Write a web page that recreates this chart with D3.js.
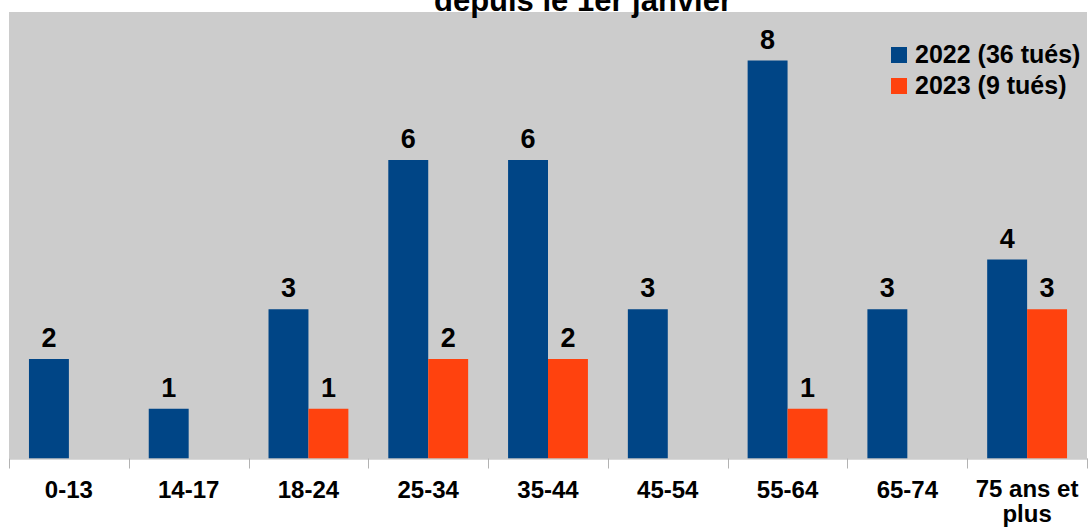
<!DOCTYPE html>
<html><head><meta charset="utf-8">
<script src="https://cdn.jsdelivr.net/npm/d3@7"></script>
<style>
html,body{margin:0;padding:0;background:#fff;}
svg{display:block;font-family:"Liberation Sans",Arial,sans-serif;font-weight:bold;}
</style></head>
<body>
<svg id="c" width="1088" height="529"></svg>
<script>
const categories = ["0-13","14-17","18-24","25-34","35-44","45-54","55-64","65-74","75 ans et plus"];
const seriesNames = ["2022 (36 tués)","2023 (9 tués)"];
const values2022 = [2,1,3,6,6,3,8,3,4];
const values2023 = [null,null,1,2,2,null,1,null,3];
const colors = ["#004586","#ff420e"];
const title = "depuis le 1er janvier";

(function(){
const svg = d3.select("#c");
const pLeft = 9, pRight = 1087, pTop = 12, pBase = 458.5;

const x = d3.scaleBand().domain(categories).range([pLeft, pRight]).paddingInner(0).paddingOuter(0);
const sub = d3.scaleBand().domain([0,1]).range([0, x.bandwidth()]).paddingInner(0).paddingOuter(0.5);
const y = d3.scaleLinear().domain([0, 8.975]).range([pBase, pTop]);

svg.append("rect").attr("x", pLeft).attr("y", pTop).attr("width", pRight - pLeft).attr("height", pBase - pTop).attr("fill", "#cccccc");

svg.append("text").attr("x", 583).attr("y", 11).attr("text-anchor", "middle")
  .attr("font-size", 31).attr("fill", "#000").text(title);

const series = [values2022, values2023];
series.forEach((vals, si) => {
  const g = svg.append("g");
  categories.forEach((c, i) => {
    const v = vals[i];
    if (v == null) return;
    const bx = x(c) + sub(si);
    g.append("rect").attr("x", bx).attr("y", y(v)).attr("width", sub.bandwidth())
      .attr("height", y(0) - y(v)).attr("fill", colors[si]);
    g.append("text").attr("x", bx + sub.bandwidth() / 2).attr("y", y(v) - 12)
      .attr("text-anchor", "middle").attr("font-size", 27).attr("fill", "#000").text(v);
  });
});

const axis = d3.axisBottom(x).tickSize(0).tickFormat("");
const ag = svg.append("g").attr("transform", `translate(0,${pBase})`).call(axis);
ag.select(".domain").attr("stroke", "#b3b3b3").attr("stroke-width", 1);
const edges = categories.map(c => x(c)).concat([pRight]);
ag.selectAll(".edge").data(edges).enter().append("line")
  .attr("x1", d => Math.round(d) + 0.5).attr("x2", d => Math.round(d) + 0.5)
  .attr("y1", 0).attr("y2", 10).attr("stroke", "#b3b3b3");

categories.forEach(c => {
  const cx = x(c) + x.bandwidth() / 2;
  const t = svg.append("text").attr("x", cx).attr("y", 498).attr("text-anchor", "middle")
    .attr("font-size", 24).attr("fill", "#000");
  if (c === "75 ans et plus") {
    t.append("tspan").attr("x", cx).attr("y", 497).text("75 ans et");
    t.append("tspan").attr("x", cx).attr("y", 522).text("plus");
  } else t.text(c);
});

const lg = svg.append("g");
seriesNames.forEach((n, i) => {
  const yy = 47 + i * 31;
  lg.append("rect").attr("x", 891).attr("y", yy).attr("width", 16).attr("height", 16).attr("fill", colors[i]);
  lg.append("text").attr("x", 915).attr("y", yy + 16).attr("font-size", 25).attr("fill", "#000").text(n);
});
})();
</script>
</body></html>
